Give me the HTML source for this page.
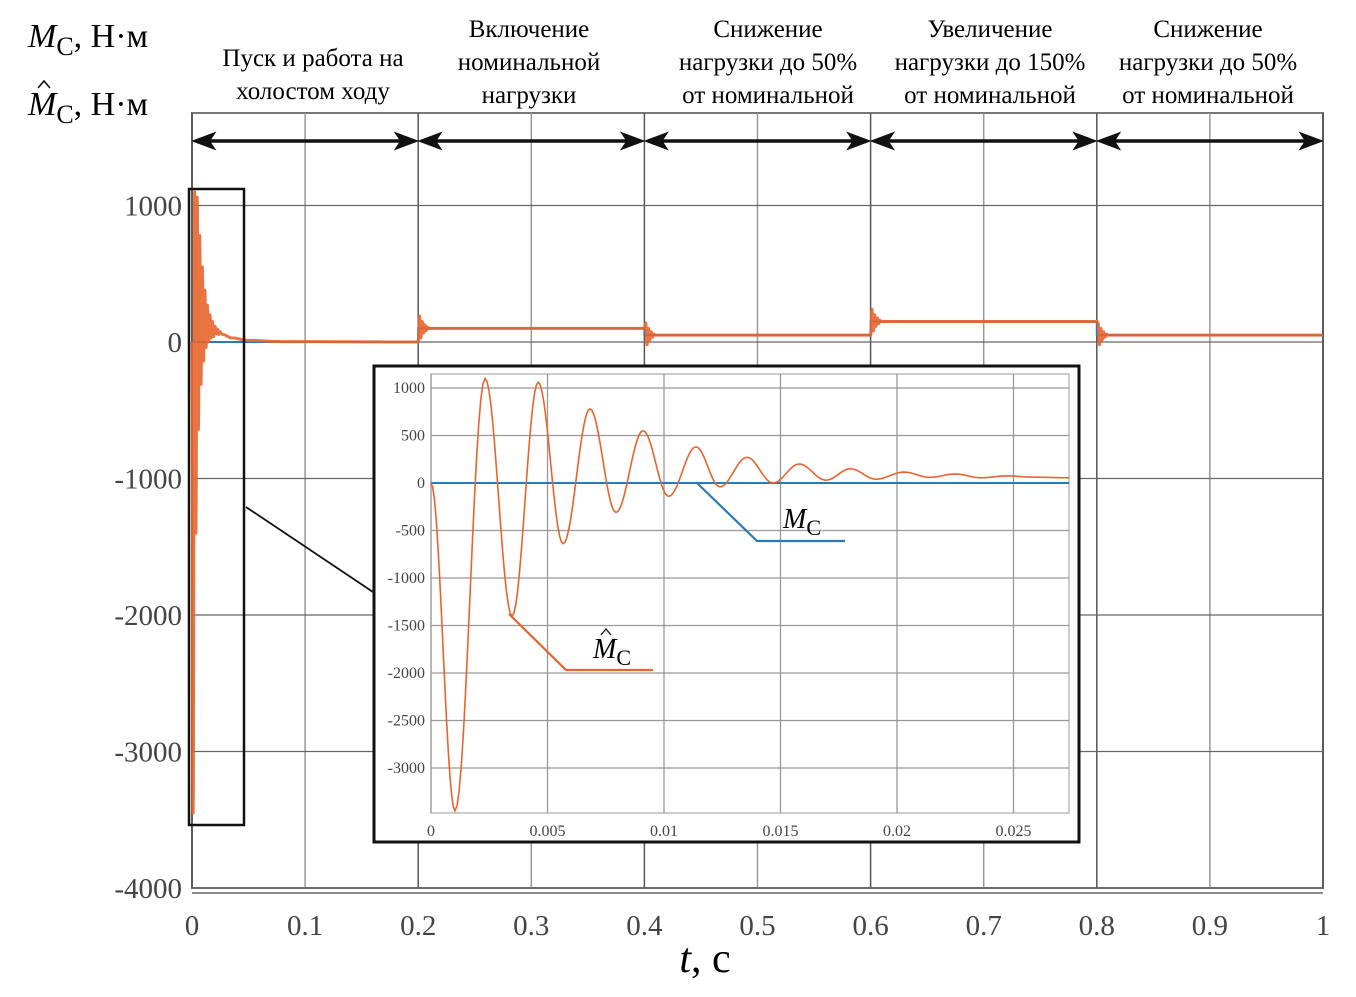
<!DOCTYPE html>
<html><head><meta charset="utf-8">
<style>
html,body{margin:0;padding:0;background:#fff;}
svg{display:block;font-family:"Liberation Serif",serif;}
</style></head>
<body>
<svg id="chart" width="1356" height="997" viewBox="0 0 1356 997" xmlns="http://www.w3.org/2000/svg">
<g id="main-grid"></g>
<g id="main-series"></g>
<g id="annot"></g>
<g id="inset"></g>
</svg>
<script>
// ---------- data ----------
const mainXTicks = [0,0.1,0.2,0.3,0.4,0.5,0.6,0.7,0.8,0.9,1];
const mainXLabels = ["0","0.1","0.2","0.3","0.4","0.5","0.6","0.7","0.8","0.9","1"];
const mainYTicks = [1000,0,-1000,-2000,-3000,-4000];
const mainYLabels = ["1000","0","-1000","-2000","-3000","-4000"];
// startup extremes (t in s, value N*m)
const startT = [0,0.00103,0.00232,0.00348,0.0046,0.00567,0.00682,0.00794,0.0091,0.0102,0.01137,0.0124,0.01356,0.01468,0.0158,0.01695,0.018,0.0191,0.0203,0.0214,0.0225,0.0236,0.0247,0.0258,0.0274];
const startV = [0,-3450,1100,-1400,1060,-640,780,-310,550,-140,380,-40,270,0,200,30,150,40,115,60,95,55,75,62,55];
// tail after startup
const tailT = [0.035,0.05,0.08,0.2];
const tailV = [30,12,3,0];
// load steps
const stepT = [0.2,0.4,0.6,0.8];
const loadLevels = [0,100,50,150,50];
const stepRipple = [90,-70,50,-35,25,-15,8,0];
const segLabels = [["Пуск и работа на","холостом ходу"],["Включение","номинальной","нагрузки"],["Снижение","нагрузки до 50%","от номинальной"],["Увеличение","нагрузки до 150%","от номинальной"],["Снижение","нагрузки до 50%","от номинальной"]];
const insetXTicks = [0,0.005,0.01,0.015,0.02,0.025];
const insetXLabels = ["0","0.005","0.01","0.015","0.02","0.025"];
const insetYTicks = [1000,500,0,-500,-1000,-1500,-2000,-2500,-3000];
const insetYLabels = ["1000","500","0","-500","-1000","-1500","-2000","-2500","-3000"];

// ---------- helpers ----------
const NS="http://www.w3.org/2000/svg";
function mk(tag,attrs,parent,text){const e=document.createElementNS(NS,tag);for(const k in attrs)e.setAttribute(k,attrs[k]);if(text!==undefined)e.textContent=text;parent.appendChild(e);return e;}
const X=t=>192+t*1131, Y=v=>342-v*0.1365;
const IX=t=>431+t*23300, IY=v=>483-v*0.095;
function cosInterp(ts,vs,n){const pts=[];for(let i=0;i<ts.length-1;i++){for(let k=0;k<n;k++){const f=k/n,w=(1-Math.cos(Math.PI*f))/2;pts.push([ts[i]+(ts[i+1]-ts[i])*f,vs[i]+(vs[i+1]-vs[i])*w]);}}pts.push([ts[ts.length-1],vs[vs.length-1]]);return pts;}

// ---------- main grid ----------
const grid=document.getElementById('main-grid');
mk('rect',{x:192,y:113,width:1131,height:775,fill:'none',stroke:'#777','stroke-width':2},grid);
mainXTicks.forEach((t,i)=>{
  const l=mk('line',{x1:X(t),y1:113,x2:X(t),y2:888,stroke:i%2==0?'#555':'#999','stroke-width':1.5},grid);
  
  const tx=mk('text',{x:X(t),y:935,'font-size':29,fill:'#444','text-anchor':'middle'},grid,mainXLabels[i]);
  
});
mk('line',{x1:192,y1:893,x2:1323,y2:893,stroke:'#666','stroke-width':1.5},grid);
mainYTicks.forEach((v,i)=>{
  const l=mk('line',{x1:192,y1:Y(v),x2:1323,y2:Y(v),stroke:'#666','stroke-width':1.2},grid);
  
  const tx=mk('text',{x:182,y:Y(v)+10,'font-size':29,fill:'#444','text-anchor':'end'},grid,mainYLabels[i]);
  
});

// ---------- main series ----------
const ser=document.getElementById('main-series');
let bd=`M${X(0)},${Y(0)}`;
stepT.forEach((t,i)=>{bd+=` L${X(t)},${Y(loadLevels[i])} L${X(t)},${Y(loadLevels[i+1])}`;});
bd+=` L${X(1)},${Y(loadLevels[loadLevels.length-1])}`;
const blue=mk('path',{d:bd,fill:'none',stroke:'#2a7ab8','stroke-width':2},ser);

let pts=cosInterp(startT.concat(tailT),startV.concat(tailV),8);
stepT.forEach((t,i)=>{
  const base=loadLevels[i+1];
  const ts=[t],vs=[loadLevels[i]];
  stepRipple.forEach((r,k)=>{ts.push(t+0.0012*(k+1));vs.push(base+r);});
  pts=pts.concat(cosInterp(ts,vs,4));
  pts.push([i<stepT.length-1?stepT[i+1]:1,base]);
});
const od='M'+pts.map(p=>X(p[0]).toFixed(2)+','+Y(p[1]).toFixed(2)).join(' L');
const orng=mk('path',{d:od,fill:'none',stroke:'#e8642e','stroke-width':3,'stroke-opacity':0.9,'stroke-linejoin':'round'},ser);


// ---------- annotations ----------
const an=document.getElementById('annot');
const t1=mk('text',{x:28,y:47,'font-size':34},an);

t1.innerHTML='<tspan font-style="italic">M</tspan><tspan font-size="26" dy="8">C</tspan><tspan dy="-8">, Н·м</tspan>';
const t2=mk('text',{x:28,y:115,'font-size':34},an);

t2.innerHTML='<tspan font-style="italic">M</tspan><tspan font-size="26" dy="8">C</tspan><tspan dy="-8">, Н·м</tspan>';
mk('path',{d:'M38,88 L44,81 L50,88',fill:'none',stroke:'#111','stroke-width':1.6},an);
const xt=mk('text',{x:705,y:972,'font-size':42,'text-anchor':'middle'},an);

xt.innerHTML='<tspan font-style="italic">t</tspan>, c';
const centers=[313,529,768,990,1208];
segLabels.forEach((lines,i)=>{
  const y0=lines.length==2?66:37;
  lines.forEach((s,k)=>{const e=mk('text',{x:centers[i],y:y0+k*33,'font-size':25,'text-anchor':'middle'},an,s);
    });
  const xa=X(i*0.2)+4,xb=X(i*0.2+0.2)-4;
  const ar=mk('path',{d:`M${xa},141 L${xb},141 M${xa},141 l16,-6 l-4,6 l4,6 z M${xb},141 l-16,-6 l4,6 l-4,6 z`,stroke:'#111','stroke-width':3.5,fill:'#111'},an);
  
});
const zb=mk('rect',{x:189,y:189,width:55,height:636,fill:'none',stroke:'#111','stroke-width':2.5},an);

mk('line',{x1:246,y1:507,x2:373,y2:592,stroke:'#111','stroke-width':1.8},an);

// ---------- inset ----------
const ins=document.getElementById('inset');
mk('rect',{x:374,y:366,width:705,height:476,fill:'#fff',stroke:'#111','stroke-width':3},ins);
mk('rect',{x:431,y:374,width:638,height:439,fill:'none',stroke:'#aaa','stroke-width':1.2},ins);
insetXTicks.forEach((t,i)=>{
  mk('line',{x1:IX(t),y1:374,x2:IX(t),y2:813,stroke:'#999','stroke-width':1.3},ins);
  const tx=mk('text',{x:IX(t),y:836,'font-size':16,fill:'#444','text-anchor':'middle'},ins,insetXLabels[i]);
  
});
insetYTicks.forEach((v,i)=>{
  mk('line',{x1:431,y1:IY(v),x2:1069,y2:IY(v),stroke:'#999','stroke-width':1.3},ins);
  const tx=mk('text',{x:425,y:IY(v)+5,'font-size':16,fill:'#444','text-anchor':'end'},ins,insetYLabels[i]);
  
});
const ib=mk('line',{x1:IX(0),y1:IY(0),x2:1069,y2:IY(0),stroke:'#2a7ab8','stroke-width':2},ins);

const ipts=cosInterp(startT,startV,14);
const io=mk('path',{d:'M'+ipts.map(p=>IX(p[0]).toFixed(2)+','+IY(p[1]).toFixed(2)).join(' L'),fill:'none',stroke:'#e8642e','stroke-width':1.6},ins);

mk('path',{d:'M697,483 L757,541 L845,541',fill:'none',stroke:'#2a7ab8','stroke-width':2.2},ins);
mk('path',{d:'M509,614 L566,670 L653,670',fill:'none',stroke:'#e8642e','stroke-width':2.2},ins);
const lm=mk('text',{x:783,y:528,'font-size':28},ins);

lm.innerHTML='<tspan font-style="italic">M</tspan><tspan font-size="22" dy="7">C</tspan>';
const lh=mk('text',{x:593,y:658,'font-size':28},ins);

lh.innerHTML='<tspan font-style="italic">M</tspan><tspan font-size="22" dy="7">C</tspan>';
mk('path',{d:'M601,635 L606,629 L611,635',fill:'none',stroke:'#111','stroke-width':1.3},ins);
</script>
</body></html>
